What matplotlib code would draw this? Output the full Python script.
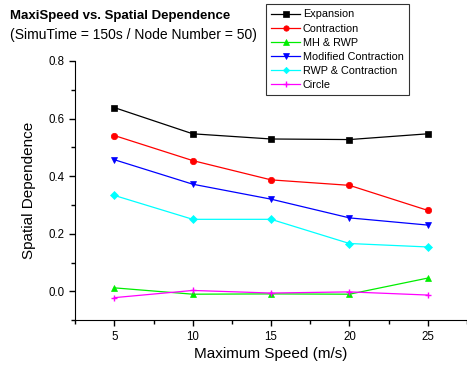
import matplotlib.pyplot as plt
import numpy as np

plt.rcParams.update({"font.family": "Liberation Sans", "font.size": 8})

speed = [5, 10, 15, 20, 25]
expansion = [0.638, 0.547, 0.529, 0.527, 0.547]
contraction = [0.541, 0.454, 0.387, 0.368, 0.281]
mh_rwp = [0.012, -0.010, -0.009, -0.010, 0.046]
modified = [0.457, 0.372, 0.320, 0.255, 0.230]
rwp_contraction = [0.333, 0.250, 0.250, 0.166, 0.154]
circle = [-0.022, 0.003, -0.006, -0.002, -0.013]

series = [
    ("Expansion", expansion, 'k', 's'),
    ("Contraction", contraction, 'r', 'o'),
    ("MH & RWP", mh_rwp, '#00ee00', '^'),
    ("Modified Contraction", modified, '#0000ff', 'v'),
    ("RWP & Contraction", rwp_contraction, '#00ffff', 'D'),
    ("Circle", circle, '#ff00ff', '+'),
]

fig = plt.figure(figsize=(4.67, 3.65), dpi=100)
ax = fig.add_axes([0.161, 0.123, 0.839, 0.71])

for name, vals, col, mk in series:
    ms = 3.8 if mk == 'D' else 4.6
    ax.plot(speed, vals, color=col, marker=mk, markersize=ms, linewidth=0.9,
            markeredgewidth=1.0 if mk == '+' else 0.5, label=name)

ax.set_xlim(2.5, 27.5)
ax.set_ylim(-0.1, 0.8)
ax.set_xticks(speed)
ax.set_xticks(np.arange(2.5, 28, 5), minor=True)
ax.set_yticks([0.0, 0.2, 0.4, 0.6, 0.8])
ax.set_yticks([-0.1, 0.1, 0.3, 0.5, 0.7], minor=True)
ax.set_yticklabels(['0.0', '0.2', '0.4', '0.6', '0.8'])
ax.spines['top'].set_visible(False)
ax.spines['right'].set_visible(False)
ax.tick_params(which='major', length=4, width=1)
ax.tick_params(which='minor', length=3, width=1)
ax.tick_params(labelsize=8.3)

ax.set_xlabel('Maximum Speed (m/s)', fontsize=11, labelpad=3)
ax.set_ylabel('Spatial Dependence', fontsize=11, labelpad=9)

fig.text(0.021, 0.955, 'MaxiSpeed vs. Spatial Dependence', fontsize=9.5,
         fontweight='bold', va='center')
fig.text(0.021, 0.905, '(SimuTime = 150s / Node Number = 50)', fontsize=10,
         va='center')

leg = ax.legend(loc='upper left', bbox_to_anchor=(266 / 467, 1 - 4 / 365),
                bbox_transform=fig.transFigure, borderaxespad=0, fontsize=7.8,
                frameon=True, fancybox=False, edgecolor='k', borderpad=0.5,
                labelspacing=0.38, handlelength=2.6, handletextpad=0.3,
                markerscale=0.85)
leg.get_frame().set_linewidth(0.8)

plt.savefig('out.png', dpi=100)
